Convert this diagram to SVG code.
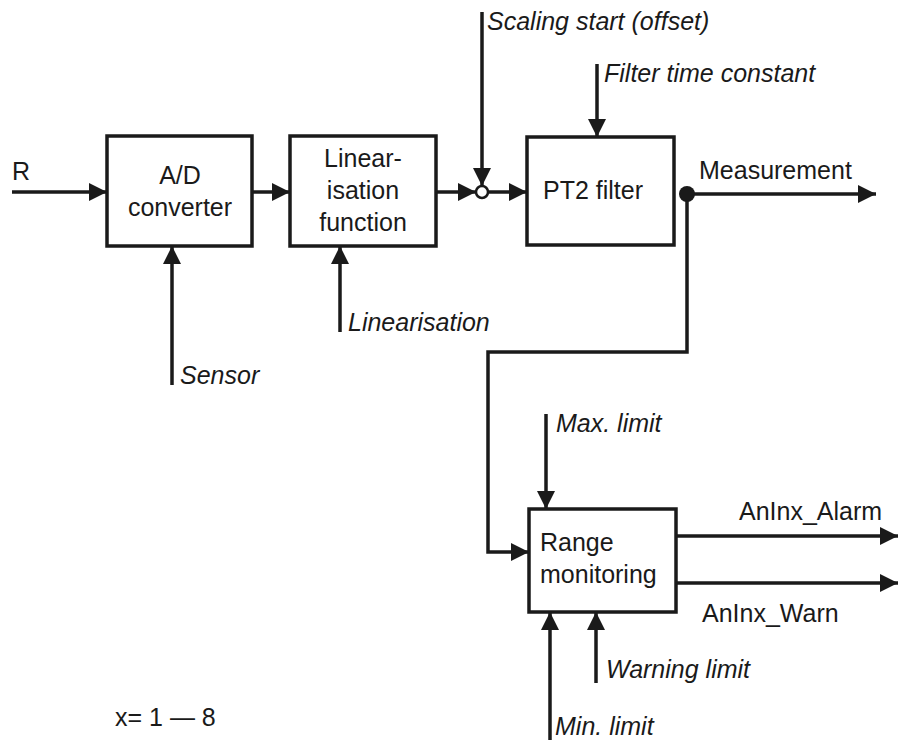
<svg xmlns="http://www.w3.org/2000/svg" width="899" height="740" viewBox="0 0 899 740">
<defs>
<marker id="ah" markerUnits="userSpaceOnUse" markerWidth="18" markerHeight="18" refX="18" refY="9" orient="auto"><path d="M0,0 L18,9 L0,18 z" fill="#1a1a1a"/></marker>
<style>
.box{fill:#fff;stroke:#1a1a1a;stroke-width:3.5}
.ln{fill:none;stroke:#1a1a1a;stroke-width:3.5}
.a{marker-end:url(#ah)}
text{font-family:"Liberation Sans",Arial,sans-serif;font-size:25px;fill:#1a1a1a}
.c{text-anchor:middle}
.i{font-style:italic}
</style>
</defs>
<g id="connectors">
<line class="ln a" x1="12" y1="192" x2="107" y2="192"/>
<line class="ln a" x1="252" y1="192" x2="290" y2="192"/>
<line class="ln a" x1="436" y1="192" x2="476" y2="192"/>
<line class="ln a" x1="488" y1="192" x2="527" y2="192"/>
<line class="ln a" x1="482" y1="12" x2="482" y2="186"/>
<line class="ln a" x1="597" y1="64" x2="597" y2="137"/>
<line class="ln a" x1="172" y1="385" x2="172" y2="246"/>
<line class="ln a" x1="340" y1="332" x2="340" y2="246"/>
<line class="ln a" x1="687" y1="194" x2="876" y2="194"/>
<polyline class="ln a" points="687,194 687,352 488,352 488,552 529,552"/>
<line class="ln a" x1="546" y1="414" x2="546" y2="509"/>
<line class="ln a" x1="550" y1="740" x2="550" y2="612"/>
<line class="ln a" x1="596" y1="683" x2="596" y2="612"/>
<line class="ln a" x1="676" y1="536" x2="898" y2="536"/>
<line class="ln a" x1="676" y1="583" x2="898" y2="583"/>
</g>
<g id="sum"><circle cx="482" cy="192" r="6" fill="#fff" stroke="#1a1a1a" stroke-width="2.5"/></g>
<g id="branch"><circle cx="687" cy="194" r="8" fill="#1a1a1a"/></g>
<g id="ad">
<rect class="box" x="107" y="136" width="145" height="110"/>
<text class="c" x="180" y="184">A/D</text>
<text class="c" x="180" y="216">converter</text>
</g>
<g id="lin">
<rect class="box" x="290" y="136" width="146" height="110"/>
<text class="c" x="363" y="167">Linear-</text>
<text class="c" x="363" y="199">isation</text>
<text class="c" x="363" y="231">function</text>
</g>
<g id="pt2">
<rect class="box" x="527" y="137" width="147" height="108"/>
<text x="543" y="199">PT2 filter</text>
</g>
<g id="range">
<rect class="box" x="529" y="509" width="147" height="103"/>
<text x="540" y="551">Range</text>
<text x="540" y="583">monitoring</text>
</g>
<g id="labels">
<text x="12" y="180">R</text>
<text class="i" x="487" y="30">Scaling start (offset)</text>
<text class="i" x="604" y="82">Filter time constant</text>
<text x="699" y="179">Measurement</text>
<text class="i" x="348" y="331">Linearisation</text>
<text class="i" x="180" y="384">Sensor</text>
<text class="i" x="556" y="432">Max. limit</text>
<text x="739" y="520">AnInx_Alarm</text>
<text x="702" y="622">AnInx_Warn</text>
<text class="i" x="606" y="678">Warning limit</text>
<text class="i" x="555" y="735">Min. limit</text>
<text x="115" y="726">x= 1 — 8</text>
</g>
</svg>
